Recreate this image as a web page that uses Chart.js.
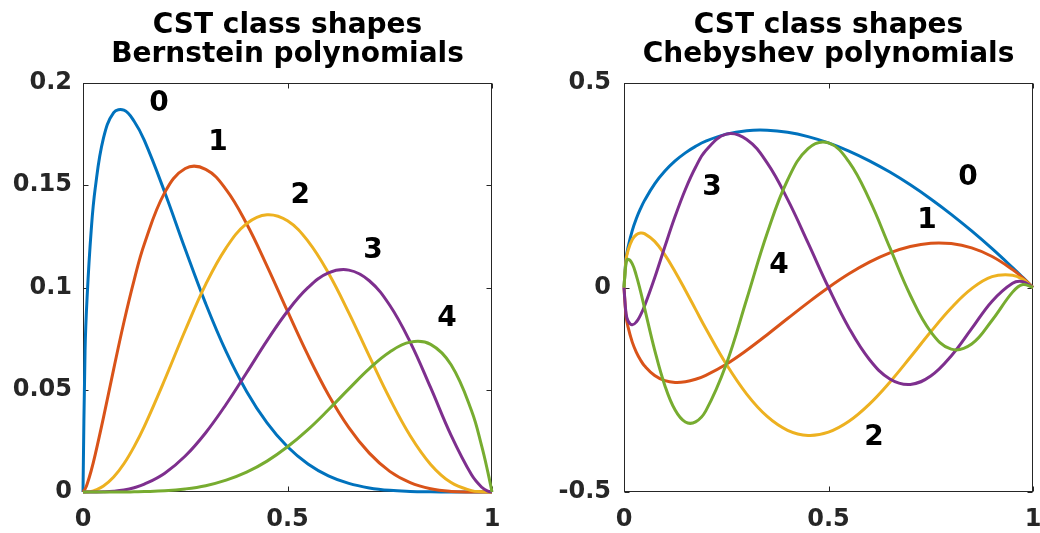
<!DOCTYPE html>
<html>
<head>
<meta charset="utf-8">
<script src="https://cdn.jsdelivr.net/npm/chart.js@4/dist/chart.umd.min.js"></script>
<style>
  html, body { margin: 0; padding: 0; background: #fff; }
  #wrap { position: relative; width: 1040px; height: 533px; }
  canvas { position: absolute; top: 0; }
</style>
</head>
<body>
<div id="wrap">
  <canvas id="bern" width="520" height="533" style="left:0"></canvas>
  <canvas id="cheb" width="520" height="533" style="left:520px"></canvas>
</div>
<script>
// class function sqrt(x)(1-x) times order-4 Bernstein terms
const xBern = [0, 0.005, 0.01, 0.02, 0.03, 0.05, 0.075, 0.1, 0.125, 0.15, 0.2, 0.25, 0.3, 0.35, 0.4, 0.45,
  0.5, 0.55, 0.6, 0.65, 0.7, 0.75, 0.8, 0.85, 0.9, 0.95, 0.975, 0.99, 1];
const bern0 = [0, 0.0690, 0.0951, 0.1278, 0.1487, 0.1730, 0.1855, 0.1867, 0.1813, 0.1719, 0.1465, 0.1187, 0.0921, 0.0686, 0.0492, 0.0338,
  0.0221, 0.0137, 0.0079, 0.0042, 0.0020, 0.0008, 0.0003, 0.0001, 0, 0, 0, 0, 0];
const bern1 = [0, 0.0014, 0.0038, 0.0104, 0.0184, 0.0364, 0.0601, 0.0830, 0.1036, 0.1213, 0.1465, 0.1582, 0.1578, 0.1479, 0.1312, 0.1105,
  0.0884, 0.0669, 0.0476, 0.0315, 0.0190, 0.0101, 0.0046, 0.0016, 0.0003, 0, 0, 0, 0];
const bern2 = [0, 0, 0.0001, 0.0003, 0.0009, 0.0029, 0.0073, 0.0138, 0.0222, 0.0321, 0.0550, 0.0791, 0.1015, 0.1194, 0.1312, 0.1356,
  0.1326, 0.1227, 0.1071, 0.0876, 0.0664, 0.0457, 0.0275, 0.0135, 0.0046, 0.0007, 0.0001, 0, 0];
const bern3 = [0, 0, 0, 0, 0, 0.0001, 0.0004, 0.0010, 0.0021, 0.0038, 0.0092, 0.0176, 0.0290, 0.0429, 0.0583, 0.0740,
  0.0884, 0.0999, 0.1071, 0.1085, 0.1033, 0.0913, 0.0733, 0.0510, 0.0277, 0.0084, 0.0023, 0.0004, 0];
const bern4 = [0, 0, 0, 0, 0, 0, 0, 0, 0.0001, 0.0002, 0.0006, 0.0015, 0.0031, 0.0058, 0.0097, 0.0151,
  0.0221, 0.0305, 0.0402, 0.0504, 0.0603, 0.0685, 0.0733, 0.0722, 0.0622, 0.0397, 0.0223, 0.0096, 0];

// same class function times shifted Chebyshev T0..T4
const xCheb = [0, 0.005, 0.01, 0.02, 0.03, 0.04, 0.05, 0.075, 0.1, 0.125, 0.15, 0.175, 0.2, 0.25, 0.3, 0.35, 0.4, 0.45,
  0.5, 0.55, 0.6, 0.65, 0.7, 0.75, 0.8, 0.85, 0.9, 0.95, 0.975, 1];
const cheb0 = [0, 0.0704, 0.0990, 0.1386, 0.1680, 0.1920, 0.2124, 0.2533, 0.2846, 0.3094, 0.3292, 0.3451, 0.3578, 0.3750, 0.3834, 0.3845, 0.3795, 0.3690,
  0.3536, 0.3337, 0.3098, 0.2822, 0.2510, 0.2165, 0.1789, 0.1383, 0.0949, 0.0487, 0.0247, 0];
const cheb1 = [0, -0.0697, -0.0970, -0.1330, -0.1579, -0.1766, -0.1912, -0.2153, -0.2277, -0.2320, -0.2304, -0.2243, -0.2147, -0.1875, -0.1534, -0.1154, -0.0759, -0.0369,
  0, 0.0334, 0.0620, 0.0847, 0.1004, 0.1083, 0.1073, 0.0968, 0.0759, 0.0439, 0.0235, 0];
const cheb2 = [0, 0.0676, 0.0912, 0.1169, 0.1289, 0.1330, 0.1317, 0.1127, 0.0797, 0.0387, -0.0066, -0.0535, -0.1002, -0.1875, -0.2607, -0.3153, -0.3491, -0.3616,
  -0.3536, -0.3271, -0.2851, -0.2314, -0.1707, -0.1083, -0.0501, -0.0028, 0.0266, 0.0302, 0.0199, 0];
const cheb3 = [0, -0.0641, -0.0817, -0.0913, -0.0844, -0.0681, -0.0459, 0.0237, 0.1002, 0.1740, 0.2397, 0.2939, 0.3349, 0.3750, 0.3619, 0.3046, 0.2155, 0.1092,
  0, -0.0988, -0.1760, -0.2235, -0.2369, -0.2165, -0.1674, -0.1007, -0.0334, 0.0105, 0.0143, 0];
const cheb4 = [0, 0.0594, 0.0689, 0.0585, 0.0298, -0.0077, -0.0491, -0.1530, -0.2400, -0.2997, -0.3289, -0.3285, -0.3017, -0.1875, -0.0288, 0.1326, 0.2629, 0.3397,
  0.3536, 0.3073, 0.2147, 0.0973, -0.0189, -0.1083, -0.1508, -0.1382, -0.0800, -0.0113, 0.0073, 0];

const curveNames = ["0", "1", "2", "3", "4"];
const xTicks = [0, 0.5, 1];
const bernTicks = [0, 0.05, 0.1, 0.15, 0.2];
const chebTicks = [-0.5, 0, 0.5];

// where each curve number sits, in data units
const bernLabelAt = [[0.186, 0.1897], [0.330, 0.1707], [0.531, 0.1447], [0.709, 0.1178], [0.890, 0.0846]];
const chebLabelAt = [[0.841, 0.268], [0.741, 0.163], [0.611, -0.368], [0.215, 0.243], [0.379, 0.053]];

const COLORS = ["#0072BD", "#D95319", "#EDB120", "#7E2F8E", "#77AC30"];
const INK = "#262626";
const FONT = "'DejaVu Sans', 'Liberation Sans', sans-serif";

// tick text without trailing zeros: 0.2, 0.1, 1
const fmt = v => String(Math.round(v * 1000) / 1000);

// keep the axis from reserving room for its end labels
function noPad(s) {
  s.paddingLeft = 0; s.paddingRight = 0;
  s.paddingTop = 0; s.paddingBottom = 0;
}

// box around the plot with inward ticks on all four sides
const frame = {
  id: "frame",
  beforeDatasetsDraw(chart) {
    const { ctx, chartArea: a, scales } = chart;
    const L = Math.round(a.left) + 0.5, R = Math.round(a.right) - 0.5;
    const T = Math.round(a.top) + 0.5, B = Math.round(a.bottom) - 0.5;
    ctx.save();
    ctx.strokeStyle = INK;
    ctx.lineWidth = 1;
    ctx.strokeRect(L, T, R - L, B - T);
    ctx.beginPath();
    scales.x.ticks.forEach(t => {
      const px = Math.round(scales.x.getPixelForValue(t.value)) + 0.5;
      ctx.moveTo(px, B); ctx.lineTo(px, B - 5);
      ctx.moveTo(px, T); ctx.lineTo(px, T + 5);
    });
    scales.y.ticks.forEach(t => {
      const py = Math.round(scales.y.getPixelForValue(t.value)) + 0.5;
      ctx.moveTo(L, py); ctx.lineTo(L + 5, py);
      ctx.moveTo(R, py); ctx.lineTo(R - 5, py);
    });
    ctx.stroke();
    ctx.restore();
  }
};

// numbers next to each curve, plus the two-line title
const annotate = {
  id: "annotate",
  afterDatasetsDraw(chart, args, opts) {
    const { ctx, chartArea: a, scales } = chart;
    ctx.save();
    ctx.fillStyle = "#000";
    ctx.textAlign = "center";
    ctx.textBaseline = "middle";
    ctx.font = "bold 28px " + FONT;
    opts.labelAt.forEach((p, i) => {
      ctx.fillText(curveNames[i], scales.x.getPixelForValue(p[0]), scales.y.getPixelForValue(p[1]));
    });
    ctx.textBaseline = "alphabetic";
    ctx.font = "bold 28px " + FONT;
    const cx = (a.left + a.right) / 2;
    ctx.fillText(opts.title[0], cx, 33);
    ctx.fillText(opts.title[1], cx, 62);
    ctx.restore();
  }
};

function makeChart(id, xs, series, yTicks, labelAt, title, left, rightPad, yPad) {
  const datasets = series.map((ys, i) => ({
    data: xs.map((x, k) => ({ x, y: ys[k] })),
    borderColor: COLORS[i],
    borderWidth: 3,
    pointRadius: 0,
    tension: 0.4,
    clip: false,
    order: series.length - i
  }));
  const axisFont = { family: FONT, weight: "bold", size: 24 };
  return new Chart(document.getElementById(id), {
    type: "line",
    data: { datasets },
    options: {
      responsive: false,
      animation: false,
      devicePixelRatio: 1,
      layout: { autoPadding: false, padding: { top: 83, right: rightPad, bottom: 0, left: 0 } },
      plugins: { legend: { display: false }, tooltip: { enabled: false }, annotate: { labelAt, title } },
      scales: {
        x: {
          type: "linear", min: 0, max: 1,
          grid: { display: false, drawTicks: false },
          border: { display: false },
          afterBuildTicks: s => { s.ticks = xTicks.map(v => ({ value: v })); },
          ticks: { color: INK, font: axisFont, padding: 13, maxRotation: 0, autoSkip: false, callback: fmt },
          afterFit: s => { s.height = 41; noPad(s); }
        },
        y: {
          min: yTicks[0], max: yTicks[yTicks.length - 1],
          grid: { display: false, drawTicks: false },
          border: { display: false },
          afterBuildTicks: s => { s.ticks = yTicks.map(v => ({ value: v })); },
          ticks: { color: INK, font: axisFont, padding: yPad, autoSkip: false, callback: fmt },
          afterFit: s => { s.width = left; noPad(s); }
        }
      }
    },
    plugins: [frame, annotate]
  });
}

makeChart("bern", xBern, [bern0, bern1, bern2, bern3, bern4], bernTicks, bernLabelAt,
  ["CST class shapes", "Bernstein polynomials"], 83, 28, 11);
makeChart("cheb", xCheb, [cheb0, cheb1, cheb2, cheb3, cheb4], chebTicks, chebLabelAt,
  ["CST class shapes", "Chebyshev polynomials"], 104, 7, 13);
</script>
</body>
</html>
